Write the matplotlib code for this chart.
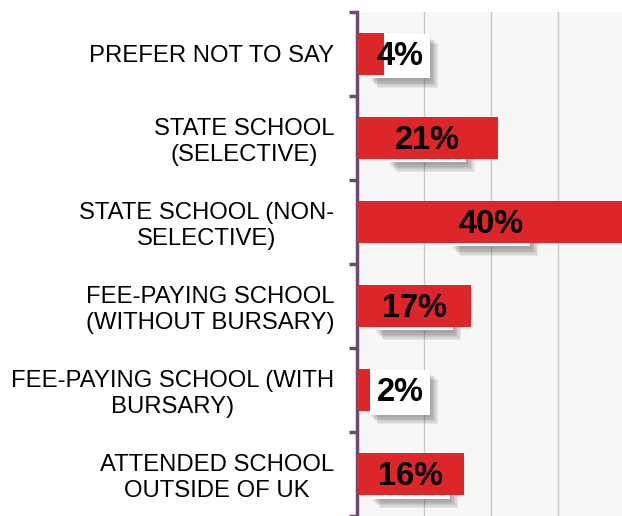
import matplotlib
matplotlib.use('Agg')
import matplotlib.pyplot as plt
import matplotlib.patheffects as pe

plt.rcParams['font.family'] = ['Liberation Sans', 'DejaVu Sans']

# chart data
categories = [
    'PREFER NOT TO SAY',
    'STATE SCHOOL\n(SELECTIVE)',
    'STATE SCHOOL (NON-\nSELECTIVE)',
    'FEE-PAYING SCHOOL\n(WITHOUT BURSARY)',
    'FEE-PAYING SCHOOL (WITH\nBURSARY)',
    'ATTENDED SCHOOL\nOUTSIDE OF UK',
]
values = [4, 21, 40, 17, 2, 16]
value_labels = ['4%', '21%', '40%', '17%', '2%', '16%']

bar_color = '#dc262a'
axis_color = '#6b4a6c'

fig = plt.figure(figsize=(6.22, 5.16), dpi=100)
ax = fig.add_axes([0.574, 0.0, 0.426, 0.977])
ax.set_facecolor('#f7f7f7')

pos = list(range(len(categories)))
ax.barh(pos, values, height=0.5, color=bar_color, zorder=3)

# soft drop shadow built from a few faint offset copies
shadow = [pe.SimplePatchShadow(offset=(o, -o - 1), shadow_rgbFace='#404040', alpha=0.09)
          for o in (1, 2, 3, 4, 5, 6)]

# value labels: shadowed box goes under the bars, text goes on top
for y, v, lab in zip(pos, values, value_labels):
    x = max(v / 2, 6.4)
    t = ax.text(x, y + 0.03, lab, ha='center', va='center', fontsize=23.5, fontweight='bold',
                color='none', zorder=2,
                bbox=dict(boxstyle='square,pad=0.2', facecolor='white', edgecolor='none'))
    t.get_bbox_patch().set_path_effects(shadow + [pe.Normal()])
    ax.text(x, y + 0.03, lab, ha='center', va='center', fontsize=23.5, fontweight='bold',
            color='black', zorder=4)

ax.set_xlim(0, 39.55)
ax.set_ylim(len(categories) - 0.5, -0.5)
ax.set_xticks([10, 20, 30])
ax.xaxis.grid(True, color='#c8c8c8', linewidth=1, zorder=1)
ax.set_axisbelow(True)
ax.tick_params(axis='x', length=0, labelbottom=False)

# category labels centred between the boundary ticks
ax.set_yticks(pos)
ax.set_yticklabels(categories, fontsize=17.2, ma='center')
ax.tick_params(axis='y', length=0, pad=16.5)
ax.set_yticks([p - 0.5 for p in pos] + [len(pos) - 0.5], minor=True)
ax.tick_params(axis='y', which='minor', length=6, width=2.5, color=axis_color, direction='out')

for s in ['top', 'right', 'bottom']:
    ax.spines[s].set_visible(False)
ax.spines['left'].set_color(axis_color)
ax.spines['left'].set_linewidth(2.5)

fig.savefig('out.png', dpi=100, facecolor='white')
